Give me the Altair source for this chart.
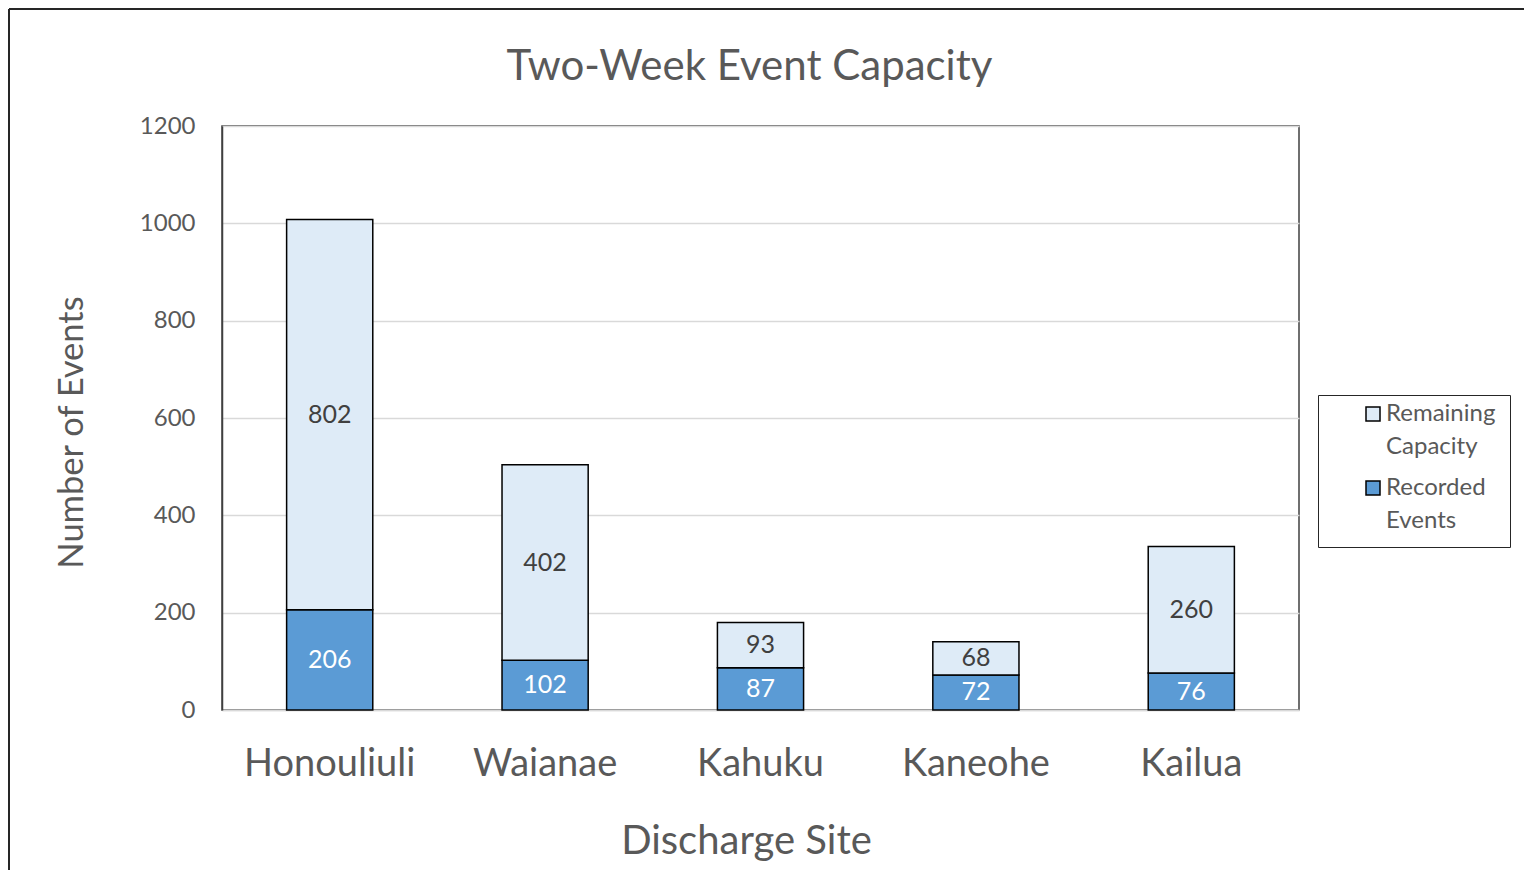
import altair as alt
import pandas as pd

sites = ["Honouliuli", "Waianae", "Kahuku", "Kaneohe", "Kailua"]
recorded = [206, 102, 87, 72, 76]
remaining = [802, 402, 93, 68, 260]
series_names = ["Remaining Capacity", "Recorded Events"]
colors = ["#DEEBF7", "#5B9BD5"]
y_ticks = [0, 200, 400, 600, 800, 1000, 1200]

rows = []
for s, r, c in zip(sites, recorded, remaining):
    rows.append({"site": s, "series": "Recorded Events", "value": r, "ord": 0})
    rows.append({"site": s, "series": "Remaining Capacity", "value": c, "ord": 1})
df = pd.DataFrame(rows)

FONT = "Lato"
GREY = "#595959"
W, H = 1077, 584

base = alt.Chart(df).transform_stack(
    stack="value", groupby=["site"], as_=["y0", "y1"], sort=[alt.SortField("ord")]
).transform_calculate(mid="(datum.y0 + datum.y1) / 2")

xenc = alt.X(
    "site:N", sort=sites,
    scale=alt.Scale(paddingInner=0.6, paddingOuter=0.3),
    axis=alt.Axis(
        title="Discharge Site", labelAngle=0, labelFont=FONT, labelFontSize=38,
        labelColor=GREY, labelPadding=65, labelBaseline="alphabetic", ticks=False,
        domain=True, domainColor="#D9D9D9", domainWidth=1.5, grid=False,
        titleFont=FONT, titleFontSize=40, titleColor=GREY, titleFontWeight="normal",
        titleY=143, titleX=524, titleAlign="center", titleBaseline="alphabetic",
    ),
)

bars = base.mark_bar(stroke="black", strokeWidth=1.5).encode(
    x=xenc,
    y=alt.Y(
        "y0:Q", scale=alt.Scale(domain=[0, 1200], nice=False),
        axis=alt.Axis(
            values=y_ticks, format="d", title="Number of Events", labelFont=FONT,
            labelFontSize=24, labelColor=GREY, labelPadding=27, ticks=False, domain=True,
            domainColor="#404040", domainWidth=1.5, grid=True, gridColor="#D9D9D9",
            gridWidth=1.5, titleFont=FONT, titleFontSize=34.5, titleColor=GREY,
            titleFontWeight="normal", titleX=-140, titleY=306, titleAngle=270,
            titleAlign="center", titleBaseline="alphabetic",
        ),
    ),
    y2="y1:Q",
    color=alt.Color(
        "series:N",
        scale=alt.Scale(domain=series_names, range=colors),
        legend=alt.Legend(
            title=None, orient="none", legendX=1096, legendY=269,
            labelExpr="split(datum.label, ' ')", labelFont=FONT, labelFontSize=24,
            labelColor=GREY, symbolType="M-1,-2H1V0H-1Z", symbolSize=196,
            symbolStrokeColor="black", symbolStrokeWidth=1.5, symbolOffset=29,
            padding=14, rowPadding=17, strokeColor="#262626",
            labelBaseline="alphabetic", labelOffset=1,
        ),
    ),
)

labels = base.mark_text(font=FONT, fontSize=25, baseline="middle").encode(
    x=alt.X("site:N", sort=sites),
    y=alt.Y("mid:Q"),
    text=alt.Text("value:Q"),
    color=alt.condition("datum.series == 'Recorded Events'", alt.value("white"), alt.value("#404040")),
)

frame_df = pd.DataFrame({"k": [0]})
left_line = alt.Chart(frame_df).mark_rule(color="#262626", strokeWidth=2).encode(
    x=alt.value(-213), y=alt.value(-117), y2=alt.value(H + 160)
)
top_line = alt.Chart(frame_df).mark_rule(color="#262626", strokeWidth=2).encode(
    x=alt.value(-213), x2=alt.value(W + 225), y=alt.value(-117)
)

chart = alt.layer(bars, labels, left_line, top_line).properties(
    width=W, height=H,
    title=alt.TitleParams(
        "Two-Week Event Capacity", font=FONT, fontSize=42, color=GREY,
        fontWeight="normal", anchor="middle", frame="group", offset=-123,
        baseline="bottom", dx=-11,
    ),
    autosize=alt.AutoSizeParams(type="none"),
    padding={"left": 214, "top": 118, "right": 225, "bottom": 160},
).configure_view(stroke="#404040", strokeWidth=1.5).configure_legend(
    strokeWidth=1.5
).configure(style={
    "guide-label": {"lineHeight": 33},
    "cell": {"stroke": "#404040", "strokeWidth": 1.5},
})

chart.save("out.html", embed_options={"renderer": "svg", "actions": False})
